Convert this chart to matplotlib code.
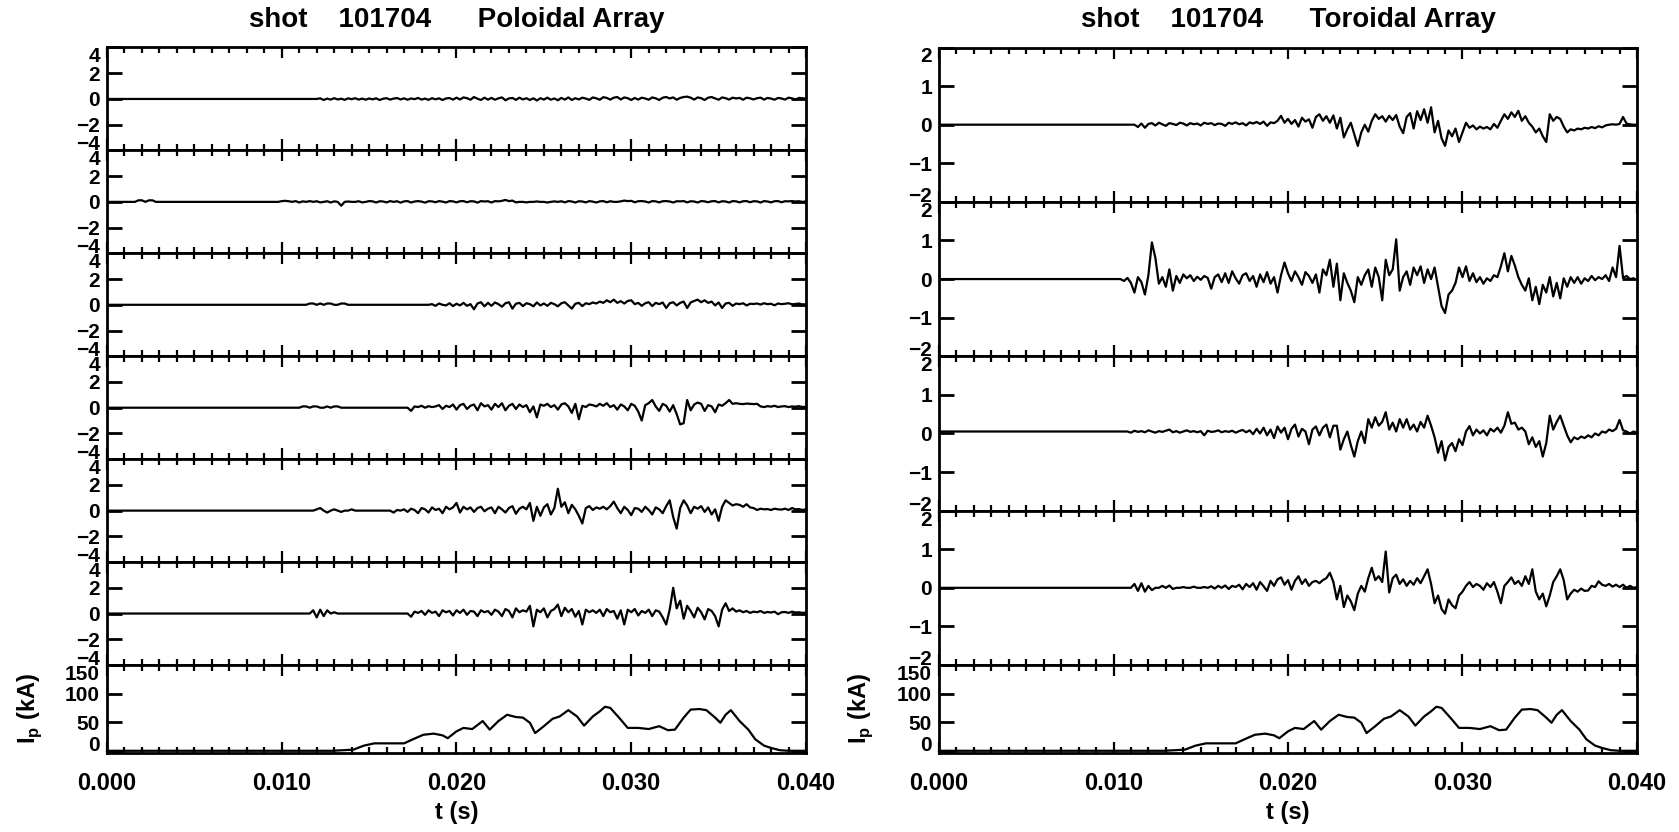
import numpy as np
import matplotlib
matplotlib.use("Agg")
import matplotlib.pyplot as plt
from matplotlib.ticker import MultipleLocator, FormatStrFormatter

plt.rcParams['font.family'] = ['Liberation Sans', 'DejaVu Sans']
plt.rcParams['font.weight'] = 'bold'

shot = 101704
DT = 0.2  # ms between samples

# ---- poloidal array coils (start time in ms, samples every DT) ----
pol1_t0 = 12.2
pol1 = [0.05, -0.08, 0.03, -0.05, 0.06, -0.04, 0.02, -0.07, 0.05, -0.02,
        0.06, -0.05, 0.03, -0.06, 0.04, -0.03, 0.05, -0.08, 0.02, 0.06,
        -0.05, 0.03, 0.07, -0.04, 0.05, -0.06, 0.04, -0.02, 0.08, -0.05,
        0.03, -0.07, 0.06, -0.03, 0.05, -0.08, 0.04, 0.07, -0.05, 0.10,
        -0.04, 0.12, 0.06, -0.06, 0.15, 0.02, -0.08, 0.10, -0.05, 0.08,
        -0.06, 0.05, 0.12, -0.10, 0.04, 0.08, -0.07, 0.10, -0.04, 0.06,
        -0.08, 0.05, -0.12, 0.06, -0.05, 0.10, -0.06, 0.04, -0.10, 0.08,
        -0.05, 0.12, -0.08, 0.06, -0.04, 0.10, 0.03, -0.07, 0.12, 0.05,
        -0.06, 0.14, 0.08, -0.05, 0.10, 0.15, -0.04, 0.12, 0.06, -0.08,
        0.08, -0.05, 0.10, 0.04, -0.06, 0.12, 0.05, -0.08, 0.10, 0.15,
        0.04, 0.12, -0.06, 0.08, 0.15, 0.18, 0.10, -0.05, 0.12, 0.06,
        -0.08, 0.10, 0.15, 0.04, -0.06, 0.12, 0.06, -0.05, 0.10, 0.04,
        0.08, -0.06, 0.10, 0.05, -0.04, 0.06, 0.10, -0.05, 0.08, 0.03,
        -0.06, 0.08, 0.04, -0.05, 0.10, 0.05, -0.04, 0.08, 0.06, 0.02]

pol2_t0 = 1.6
pol2 = ([0.0, 0.12, 0.12, 0.0, 0.12, 0.12, 0.0] + [0.0] * 35 +
        [0.06, 0.08, 0.05, 0.00, 0.06, -0.05, 0.04, 0.00, 0.06, 0.00,
         0.05, -0.04, 0.00, 0.05, -0.05, 0.04, 0.00, -0.30, 0.00, 0.03,
         0.00, 0.00, 0.05, -0.04, 0.00, 0.06, 0.04, -0.05, 0.05, 0.03,
         -0.04, 0.06, 0.00, 0.05, -0.06, 0.04, 0.06, -0.05, 0.03, 0.06,
         0.02, -0.06, 0.05, 0.04, -0.03, 0.06, 0.02, -0.05, 0.06, 0.04,
         -0.04, 0.05, 0.06, -0.03, 0.05, 0.04, -0.06, 0.06, 0.03, 0.05,
         -0.05, 0.06, 0.04, 0.08, 0.15, 0.06, 0.10, -0.04, 0.00, 0.00,
         -0.04, 0.00, 0.00, 0.03, 0.00, 0.00, -0.05, 0.00, 0.04, 0.00,
         0.05, -0.04, 0.06, 0.03, -0.05, 0.05, 0.03, -0.04, 0.06, 0.02,
         -0.05, 0.04, 0.06, -0.03, 0.05, 0.00, 0.00, 0.04, 0.10, 0.06,
         0.08, -0.03, 0.05, 0.06, 0.03, -0.05, 0.06, 0.04, -0.04, 0.05,
         0.06, 0.03, -0.05, 0.05, 0.04, 0.06, -0.04, 0.05, 0.03, -0.05,
         0.06, 0.04, -0.03, 0.05, 0.06, -0.04, 0.05, 0.03, -0.05, 0.06,
         0.04, -0.04, 0.05, 0.06, -0.03, 0.05, 0.04, -0.05, 0.06, 0.03,
         -0.04, 0.05, 0.06, -0.03, 0.05, 0.04, 0.06, 0.03, 0.05, 0.00,
         0.04])

pol3_t0 = 11.6
pol3 = ([0.1, 0.1, 0.0, 0.1, 0.0, 0.1, 0.1, 0.0, 0.0, 0.1, 0.1, 0.0, 0.0] +
        [0.0] * 22 +
        [0.05, -0.08, 0.10, 0.00, -0.05, 0.12, -0.10,
         0.08, -0.05, 0.15, -0.08, 0.05, -0.35, 0.10, 0.20, -0.12, 0.15,
         -0.08, 0.18, 0.05, -0.15, 0.12, 0.20, -0.30, 0.08, 0.15, -0.10,
         0.12, 0.05, -0.12, 0.18, -0.05, 0.10, -0.08, 0.15, 0.05, -0.12,
         0.12, 0.20, -0.05, -0.30, 0.08, 0.15, -0.10, 0.12, 0.05, 0.18,
         0.10, 0.25, 0.15, 0.35, 0.20, 0.40, 0.15, 0.28, 0.10, 0.30,
         0.35, 0.05, 0.15, -0.08, 0.12, 0.20, -0.10, 0.15, 0.05, 0.18,
         -0.25, 0.12, 0.20, -0.05, 0.15, 0.25, -0.25, 0.18, 0.30, 0.40,
         0.20, 0.35, 0.15, 0.25, -0.05, 0.18, -0.25, 0.10, 0.15, -0.08,
         0.10, 0.05, 0.12, -0.05, 0.08, 0.06, 0.10, 0.02, 0.12, 0.05,
         0.08, -0.04, 0.10, 0.05, 0.08, 0.12, 0.04, 0.06, 0.10, 0.03,
         0.05])

pol4_t0 = 11.2
pol4 = ([0.1, 0.1, 0.0, 0.1, 0.1, 0.0, 0.0, 0.1, 0.0, 0.1, 0.1, 0.0, 0.0] +
        [0.0] * 18 +
        [-0.25, 0.10, 0.05, 0.15, 0.00, 0.12, 0.05, 0.10,
         0.20, -0.10, 0.15, 0.05, 0.25, -0.15, 0.20, 0.30, -0.10, 0.15,
         0.25, -0.20, 0.35, 0.10, 0.20, -0.15, 0.30, 0.05, 0.35, -0.20,
         0.15, 0.30, -0.10, 0.25, 0.05, 0.20, -0.35, 0.10, -0.75, 0.25,
         0.15, 0.30, 0.05, 0.20, -0.15, 0.25, 0.35, 0.10, -0.40, 0.30,
         -0.90, 0.15, 0.05, 0.25, 0.20, 0.10, 0.30, 0.15, 0.35, 0.05,
         0.20, -0.15, 0.25, 0.10, -0.20, 0.30, 0.15, -0.30, -1.00, 0.20,
         0.35, 0.60, 0.10, -0.25, 0.30, 0.15, -0.30, 0.20, -0.50, -1.30,
         -1.20, 0.60, -0.20, 0.25, 0.40, 0.30, -0.25, 0.20, 0.10, -0.35,
         0.25, 0.15, 0.35, 0.60, 0.30, 0.35, 0.30, 0.28, 0.32, 0.30,
         0.28, 0.30, 0.10, 0.05, 0.12, 0.08, 0.15, 0.05, 0.10, 0.12,
         0.05, 0.10, 0.08, 0.12, 0.05, 0.08])

pol5_t0 = 12.0
pol5 = ([0.1, 0.2, 0.0, -0.15, 0.0, 0.1, 0.0, -0.1, 0.0, 0.0, 0.1] +
        [0.0] * 11 +
        [-0.15, 0.05, 0.00, 0.10, -0.10, 0.15, 0.05, -0.20,
         0.20, 0.10, -0.15, 0.25, 0.05, 0.15, -0.20, 0.30, 0.10, 0.25,
         0.60, -0.15, 0.30, 0.10, 0.25, -0.10, 0.20, 0.30, -0.05, 0.15,
         0.25, -0.20, 0.30, 0.10, -0.15, 0.20, 0.35, -0.25, 0.15, 0.30,
         0.10, 0.60, -0.80, 0.30, -0.40, 0.25, 0.50, -0.30, 0.20, 1.70,
         0.30, 0.65, -0.20, 0.45, 0.10, -0.40, -1.00, 0.20, 0.35, 0.05,
         0.25, 0.15, 0.30, 0.10, 0.35, 0.70, 0.20, -0.20, 0.30, 0.05,
         -0.35, 0.20, 0.15, -0.10, 0.30, 0.05, -0.30, 0.25, 0.10, -0.20,
         0.35, 0.80, -0.50, -1.40, 0.20, 0.80, 0.40, -0.20, 0.30, 0.15,
         0.35, -0.10, 0.25, -0.30, 0.10, -0.80, 0.30, 0.80, 0.60, 0.40,
         0.50, 0.45, 0.30, 0.50, 0.25, 0.20, 0.05, 0.15, 0.10, 0.12,
         0.05, 0.15, 0.10, 0.08, 0.15, 0.05, 0.20, 0.10, 0.12, 0.05,
         0.10])

pol6_t0 = 11.8
pol6 = ([0.25, -0.30, 0.30, -0.20, 0.25, 0.00, 0.10] + [0.0] * 21 +
        [-0.25, 0.15, 0.05, 0.20, -0.10, 0.25, 0.05, 0.15,
         -0.20, 0.25, 0.10, 0.20, -0.15, 0.25, 0.05, 0.30, -0.10, 0.20,
         0.15, -0.20, 0.25, 0.10, 0.20, -0.10, 0.30, 0.15, -0.20, 0.35,
         0.20, -0.30, 0.40, 0.10, 0.25, 0.15, 0.60, -1.00, 0.30, 0.10,
         0.40, -0.30, 0.20, 0.35, 0.70, -0.20, 0.45, 0.10, 0.35, -0.25,
         0.20, -0.85, 0.30, 0.10, 0.25, 0.05, 0.30, -0.20, 0.35, 0.10,
         0.20, -0.40, 0.25, -0.85, 0.30, 0.10, 0.35, -0.15, 0.20, 0.05,
         0.30, -0.20, 0.25, 0.15, -0.30, -0.85, 0.30, 2.00, 0.40, 1.00,
         -0.40, 0.60, 0.20, -0.30, 0.45, 0.10, -0.45, 0.35, 0.20, -0.20,
         -1.00, 0.30, 0.80, 0.20, 0.40, 0.15, 0.25, 0.10, 0.20, 0.05,
         0.15, 0.10, 0.20, 0.05, 0.12, 0.08, 0.15, -0.05, 0.10, 0.12,
         0.05, 0.15, 0.08, 0.10, 0.05, 0.08])

# ---- toroidal array coils ----
tor1_t0, tor1_base = 11.4, 0.0
tor1 = [-0.06, 0.03, -0.08, 0.02, 0.04, -0.02, 0.05, 0.01, -0.03, 0.04,
        0.02, -0.01, 0.05, 0.03, -0.02, 0.04, 0.01, 0.03, -0.02, 0.05,
        0.02, 0.04, -0.01, 0.03, 0.02, -0.03, 0.05, 0.02, 0.06, 0.01,
        0.04, -0.02, 0.06, 0.03, 0.07, 0.02, 0.08, -0.03, 0.06, 0.04,
        0.10, 0.23, 0.05, 0.15, 0.02, 0.12, -0.05, 0.18, 0.08, 0.14,
        -0.08, 0.20, 0.27, 0.10, 0.22, 0.05, 0.24, -0.10, 0.18, -0.33,
        -0.12, 0.05, -0.25, -0.55, -0.20, 0.00, -0.18, 0.10, 0.27, 0.15,
        0.22, 0.08, 0.23, 0.12, 0.25, -0.05, -0.22, 0.20, 0.30, -0.10,
        0.35, 0.12, 0.40, 0.05, 0.45, -0.20, 0.10, -0.35, -0.55, -0.15,
        -0.30, -0.10, -0.45, -0.20, 0.05, -0.08, -0.02, -0.12, -0.05, -0.10,
        -0.06, -0.12, 0.02, -0.08, 0.10, 0.27, 0.15, 0.32, 0.20, 0.36,
        0.10, 0.22, 0.05, -0.05, -0.20, -0.10, -0.30, -0.45, 0.27, 0.10,
        0.20, 0.15, -0.05, -0.20, -0.12, -0.15, -0.10, -0.12, -0.08, -0.10,
        -0.06, -0.09, -0.04, -0.07, -0.02, 0.00, 0.01, 0.00, 0.02, 0.20,
        0.03, 0.01, 0.00, 0.00]

tor2_t0, tor2_base = 10.6, 0.0
tor2 = [-0.05, 0.03, -0.10, -0.35, 0.05, -0.08, -0.40, 0.10, 0.95, 0.55,
        -0.12, 0.05, -0.20, 0.25, -0.30, 0.08, -0.10, 0.12, 0.02, 0.10,
        -0.05, 0.06, -0.02, 0.08, 0.03, -0.25, 0.05, 0.12, -0.08, 0.15,
        -0.10, 0.20, 0.02, -0.12, 0.10, 0.15, -0.05, 0.08, -0.20, 0.12,
        -0.08, 0.18, -0.12, 0.05, -0.35, 0.10, 0.43, 0.15, -0.05, 0.20,
        0.05, -0.15, 0.18, 0.08, -0.10, 0.12, -0.35, 0.25, 0.10, 0.50,
        -0.20, 0.40, -0.55, 0.15, -0.10, -0.30, -0.60, 0.05, -0.15, 0.10,
        0.25, -0.20, 0.30, 0.05, -0.55, 0.50, 0.10, 0.25, 1.03, -0.30,
        0.05, 0.20, -0.15, 0.30, 0.10, 0.33, -0.10, 0.25, 0.00, 0.30,
        -0.20, -0.70, -0.88, -0.40, -0.30, -0.10, 0.30, 0.05, 0.33, -0.05,
        0.15, -0.08, 0.05, -0.12, 0.02, -0.05, 0.10, 0.05, 0.33, 0.67,
        0.20, 0.60, 0.35, 0.05, -0.15, -0.30, 0.02, -0.55, -0.20, -0.65,
        -0.15, -0.35, 0.05, -0.45, -0.10, -0.50, 0.02, -0.20, 0.05, -0.10,
        0.05, -0.12, 0.02, -0.05, 0.08, -0.03, 0.05, 0.00, 0.10, -0.05,
        0.30, 0.05, 0.86, 0.03, 0.08, 0.00, 0.02]

tor3_t0, tor3_base = 10.8, 0.05
tor3 = [0.05, 0.02, 0.07, 0.04, 0.06, 0.03, 0.08, 0.05, 0.02, 0.06,
        0.04, 0.07, 0.10, 0.03, 0.06, 0.02, 0.05, 0.08, 0.04, 0.06,
        0.03, 0.06, -0.05, 0.07, 0.04, 0.05, 0.08, 0.03, 0.06, 0.04,
        0.07, 0.02, 0.06, 0.09, 0.03, 0.08, -0.02, 0.12, 0.00, 0.15,
        -0.05, 0.10, -0.12, 0.18, 0.02, 0.15, -0.15, 0.12, 0.23, -0.08,
        0.12, 0.05, -0.28, 0.10, 0.18, -0.05, 0.15, 0.23, -0.10, 0.20,
        0.20, -0.42, -0.15, 0.05, -0.30, -0.60, -0.20, 0.05, -0.25, 0.37,
        0.15, 0.42, 0.20, 0.30, 0.55, 0.10, 0.28, 0.05, 0.37, 0.15,
        0.37, 0.10, 0.23, 0.05, 0.30, 0.15, 0.46, 0.20, -0.10, -0.50,
        -0.20, -0.70, -0.35, -0.25, -0.46, -0.15, -0.30, 0.05, 0.19, -0.05,
        0.10, 0.00, 0.08, -0.05, 0.12, 0.05, 0.15, 0.02, 0.20, 0.55,
        0.25, 0.28, 0.10, 0.15, 0.05, -0.28, -0.10, -0.35, -0.20, -0.60,
        -0.25, 0.46, 0.10, 0.30, 0.46, 0.20, -0.05, -0.23, -0.10, -0.15,
        -0.08, -0.12, -0.05, -0.10, 0.00, -0.05, 0.05, 0.02, 0.10, 0.06,
        0.12, 0.35, 0.08, 0.05, 0.00, 0.05, 0.02]

tor4_t0, tor4_base = 11.2, 0.0
tor4 = [0.10, -0.08, 0.12, -0.10, 0.05, -0.06, 0.00, 0.00, 0.05, 0.00,
        0.06, -0.03, 0.00, 0.00, 0.02, 0.00, 0.00, 0.03, 0.00, 0.00,
        0.02, 0.00, 0.04, -0.02, 0.05, 0.00, 0.06, -0.03, 0.05, 0.02,
        0.08, -0.04, 0.10, 0.02, 0.12, -0.05, 0.15, 0.04, -0.08, 0.18,
        0.05, 0.22, 0.27, 0.08, 0.20, -0.05, 0.18, 0.30, 0.10, 0.22,
        0.05, 0.15, 0.18, 0.12, 0.20, 0.25, 0.39, 0.15, -0.30, 0.05,
        -0.50, -0.20, -0.35, -0.58, -0.15, 0.05, -0.10, 0.25, 0.52, 0.20,
        0.30, 0.15, 0.94, -0.12, 0.25, 0.34, 0.10, 0.22, 0.05, 0.18,
        0.08, 0.25, 0.12, 0.30, 0.48, 0.10, -0.40, -0.20, -0.55, -0.67,
        -0.30, -0.45, -0.53, -0.20, -0.10, 0.05, 0.15, 0.02, 0.10, 0.05,
        -0.05, 0.12, 0.02, 0.15, -0.10, -0.40, 0.05, 0.15, 0.27, 0.10,
        0.18, 0.05, 0.30, 0.10, 0.48, -0.10, -0.30, -0.15, -0.48, -0.20,
        0.15, 0.30, 0.48, 0.20, -0.30, -0.15, -0.05, -0.10, -0.02, -0.08,
        -0.07, 0.05, 0.02, 0.17, 0.08, 0.05, 0.10, 0.03, 0.08, 0.02,
        0.08, 0.00, 0.05, 0.00, 0.02]

# ---- plasma current ----
ip_t = [0, 12.9, 14.1, 14.7, 15.3, 17.0, 17.5, 18.1, 18.7, 19.2, 19.5,
        20.0, 20.4, 20.9, 21.5, 21.9, 22.4, 22.9, 23.4, 23.8, 24.2, 24.5,
        25.0, 25.5, 25.9, 26.4, 26.9, 27.3, 27.8, 28.2, 28.5, 28.8, 29.3,
        29.8, 30.4, 31.0, 31.6, 32.1, 32.5, 33.0, 33.4, 33.9, 34.3, 34.8,
        35.1, 35.4, 35.7, 36.2, 36.7, 37.1, 37.6, 38.0, 38.5, 39.0, 40.0]
ip_ka = [0, 0, 2, 9, 13, 13, 20, 28, 30, 27, 22, 34, 40, 38, 52, 37, 52,
         63, 59, 58, 49, 31, 43, 56, 60, 71, 60, 44, 60, 69, 77, 75, 58,
         40, 40, 38, 43, 36, 37, 58, 72, 73, 71, 58, 49, 63, 71, 52, 37,
         20, 9, 5, 1, 0, 0]

pol_traces = [(pol1_t0, pol1, 0.0), (pol2_t0, pol2, 0.0), (pol3_t0, pol3, 0.0),
              (pol4_t0, pol4, 0.0), (pol5_t0, pol5, 0.0), (pol6_t0, pol6, 0.0)]
tor_traces = [(tor1_t0, tor1, tor1_base), (tor2_t0, tor2, tor2_base),
              (tor3_t0, tor3, tor3_base), (tor4_t0, tor4, tor4_base)]


def series(t0, vals, base):
    # flat baseline before the coil picks anything up, then the samples
    t = np.concatenate([[0.0, t0 - DT], t0 + DT * np.arange(len(vals))])
    y = np.concatenate([[base, base], vals])
    return t / 1000.0, y


W, H = 1679, 832
fig = plt.figure(figsize=(W / 100, H / 100), dpi=100)
fs_y = 15
fs_x = 17
LW = 1.6


def px_axes(x0, x1, ytop, ybot):
    return fig.add_axes([x0 / W, 1 - ybot / H, (x1 - x0) / W, (ybot - ytop) / H])


def style(ax, ylim, yticks, bottom=False):
    ax.set_xlim(0, 0.040)
    ax.set_ylim(*ylim)
    ax.set_yticks(yticks)
    ax.xaxis.set_major_locator(MultipleLocator(0.010))
    ax.xaxis.set_minor_locator(MultipleLocator(0.001))
    ax.tick_params(axis='x', which='major', direction='in', top=True, bottom=True,
                   length=8, width=1.6, labelsize=fs_x, pad=14,
                   labelbottom=bottom)
    ax.tick_params(axis='x', which='minor', direction='in', top=True, bottom=True,
                   length=4, width=1.6)
    ax.tick_params(axis='y', which='major', direction='in', left=True, right=True,
                   length=11, width=2.0, labelsize=fs_y, pad=5)
    # end labels sit inside the panel so neighbouring panels can stack
    ticks = ax.yaxis.get_major_ticks()
    ticks[0].label1.set_verticalalignment('baseline')
    ticks[-1].label1.set_verticalalignment('top')
    for s in ax.spines.values():
        s.set_linewidth(2.0)
    if bottom:
        ax.xaxis.set_major_formatter(FormatStrFormatter('%.3f'))
        ax.set_xlabel('t (s)', fontsize=fs_x, fontweight='bold', labelpad=4)


columns = [
    (107, 806, pol_traces, (-4, 4), [-4, -2, 0, 2, 4], 'Poloidal Array', 30),
    (939, 1637, tor_traces, (-2, 2), [-2, -1, 0, 1, 2], 'Toroidal Array', 861),
]
top, ip_top, ip_bot = 47.5, 665, 752.5

for x0, x1, traces, ylim, yticks, name, ip_lab_x in columns:
    h = (ip_top - top) / len(traces)
    for k, (t0, vals, base) in enumerate(traces):
        ax = px_axes(x0, x1, top + k * h, top + (k + 1) * h)
        t, y = series(t0, vals, base)
        ax.plot(t, y, color='black', lw=LW)
        style(ax, ylim, yticks)
    ax = px_axes(x0, x1, ip_top, ip_bot)
    ax.plot(np.array(ip_t) / 1000.0, ip_ka, color='black', lw=LW)
    style(ax, (-3, 150), [0, 50, 100, 150], bottom=True)
    fig.text(ip_lab_x / W, 1 - (ip_top + ip_bot) / 2 / H, 'I$_\\mathregular{p}$ (kA)',
             rotation=90, ha='center', va='center', fontsize=17)
    fig.text((x0 + x1) / 2 / W, 1 - 20 / H,
             'shot    %d      %s' % (shot, name),
             ha='center', va='center', fontsize=20)

fig.savefig('out.png', dpi=100)
